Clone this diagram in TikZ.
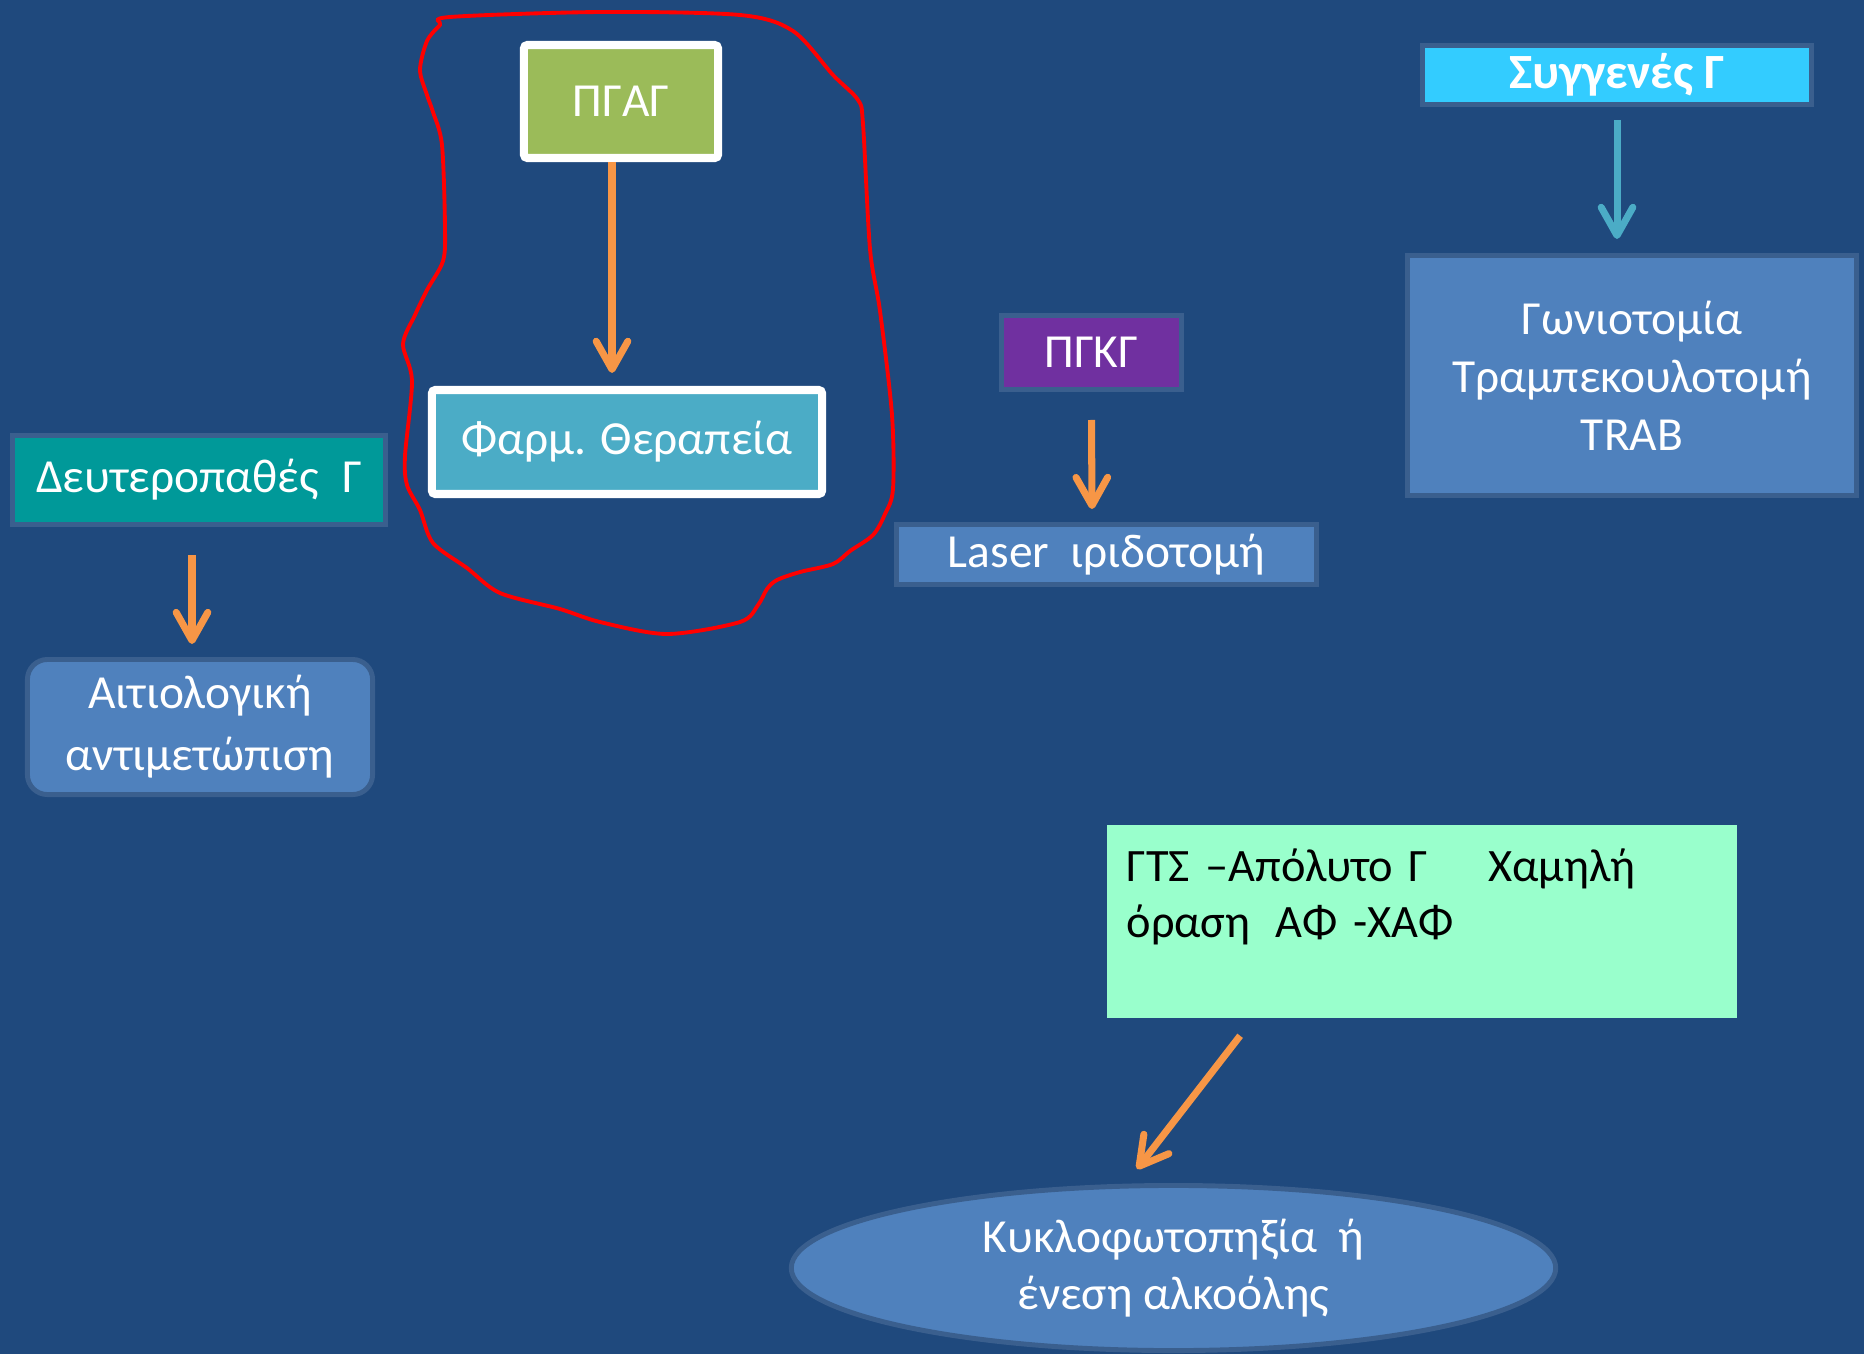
\documentclass[tikz,border=0pt]{standalone}
\usepackage{fontspec}
\setmainfont{Carlito}
\usetikzlibrary{arrows.meta,shapes.geometric}
\definecolor{bgblue}{HTML}{1F497D}
\definecolor{edgeblue}{RGB}{58,95,142}
\definecolor{midblue}{HTML}{4F81BD}
\definecolor{farmblue}{HTML}{4BACC6}
\definecolor{pgaggreen}{HTML}{9BBB59}
\definecolor{sygcyan}{HTML}{33CCFF}
\definecolor{tealbox}{HTML}{009999}
\definecolor{purplebox}{HTML}{7030A0}
\definecolor{mint}{HTML}{99FFCC}
\definecolor{arroworange}{HTML}{F79646}
\begin{document}
\begin{tikzpicture}[x=0.01cm, y=-0.01cm,
	box/.style={rectangle, inner sep=0pt, draw=edgeblue, line width=1.4pt, text=white, align=center, font=\fontsize{13.5}{17}\selectfont},
	whitebox/.style={box, draw=white, line width=2.3pt, rounded corners=1pt},
	pijl/.style={-{Straight Barb[length=8pt, width=9pt, round]}, line width=2pt, draw=arroworange}]
	\fill[bgblue] (0,0) rectangle (1864,1354);
	% links
	\node[box, fill=tealbox, minimum width=3.73cm, minimum height=0.89cm] (deut) at (199,480) {Δευτεροπαθές\hspace{0.5em}Γ};
	\node[box, fill=midblue, rounded corners=0.2cm, minimum width=3.45cm, minimum height=1.35cm, font=\fontsize{13.5}{17.6}\selectfont] (ait) at (200,727) {Αιτιολογική\\αντιμετώπιση};
	\draw[pijl] ([shift={(-7,28)}]deut.south) -- ([shift={(-8,-13)}]ait.north);
	% ΠΓΑΓ
	\node[whitebox, fill=pgaggreen, minimum width=1.94cm, minimum height=1.13cm] (pgag) at (621,101.5) {ΠΓΑΓ};
	\node[whitebox, fill=farmblue, minimum width=3.90cm, minimum height=1.04cm] (farm) at (627,442) {Φαρμ. Θεραπεία};
	\draw[pijl] ([shift={(-9,0)}]pgag.south) -- ([shift={(-15,-13)}]farm.north);
	\draw[red, line width=1.1pt] plot[smooth cycle] coordinates {(440,25) (450,17) (600,12) (740,15) (793,31) (833,75) (858,100) (863,124) (870,249) (880,311) (892,415) (893,489) (885,514) (873,535) (850,551) (833,564) (800,572) (777,580) (767,589) (758,605) (740,622) (667,634) (600,622) (560,609) (500,593) (467,568) (433,543) (420,510) (407,485) (405,456) (412,381) (403,344) (415,315) (427,290) (443,261) (445,228) (442,145) (433,112) (427,95) (420,70) (427,41)};
	% ΠΓΚΓ
	\node[box, fill=purplebox, minimum width=1.80cm, minimum height=0.74cm] (pgkg) at (1091.5,352.5) {ΠΓΚΓ};
	\node[box, fill=midblue, minimum width=4.20cm, minimum height=0.60cm] (laser) at (1106.5,554.5) {Laser\hspace{0.45em}ιριδοτομή};
	\draw[pijl] ([shift={(0,28)}]pgkg.south) -- ([shift={(-14.5,-13)}]laser.north);
	% συγγενές
	\node[box, fill=sygcyan, minimum width=3.89cm, minimum height=0.59cm, font=\fontsize{14}{17}\selectfont\bfseries] (syg) at (1617,75) {Συγγενές Γ};
	\node[box, fill=midblue, minimum width=4.49cm, minimum height=2.40cm, font=\fontsize{13.5}{16.5}\selectfont] (gon) at (1632,375.5) {Γωνιοτομία\\Τραμπεκουλοτομή\\TRAB};
	\draw[pijl, draw=farmblue] ([shift={(0,13)}]syg.south) -- ([shift={(-15,-14)}]gon.north);
	% ΓΤΣ
	\node[rectangle, fill=mint, inner sep=0pt, minimum width=6.30cm, minimum height=1.93cm, text width=5.9cm, align=left, font=\fontsize{13.2}{16}\selectfont] (gts) at (1422,921.5) {ΓΤΣ –Απόλυτο Γ\hspace{1.3em}Χαμηλή\\όραση\hspace{0.55em}ΑΦ -ΧΑΦ\\\mbox{}};
	\node[ellipse, draw=edgeblue, line width=1.4pt, fill=midblue, inner sep=0pt, minimum width=7.64cm, minimum height=1.65cm, text=white, align=center, font=\fontsize{13.5}{16.2}\selectfont] (ell) at (1173.5,1268) {Κυκλοφωτοπηξία\hspace{0.45em}ή\\ένεση αλκοόλης};
	\draw[pijl] ([shift={(134,17)}]gts.south west) -- ([shift={(-36.5,-14)}]ell.north);
\end{tikzpicture}
\end{document}
